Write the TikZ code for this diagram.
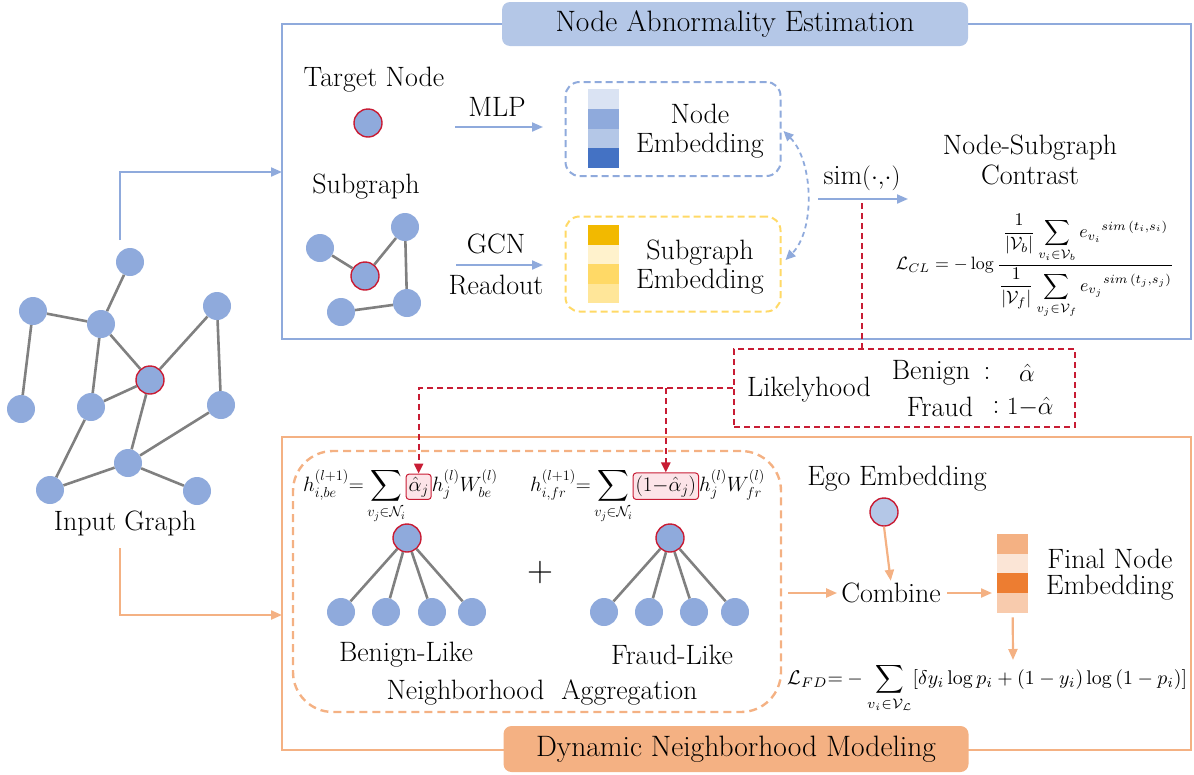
\documentclass[tikz,border=0pt]{standalone}
\usepackage{amsmath,amssymb}
\usetikzlibrary{arrows.meta,calc}

\definecolor{nodeblue}{HTML}{8FAADC}
\definecolor{lightblue}{HTML}{B4C7E7}
\definecolor{paleblue}{HTML}{DAE3F3}
\definecolor{deepblue}{HTML}{4472C4}
\definecolor{nodered}{RGB}{200,28,52}
\definecolor{edgegray}{HTML}{808080}
\definecolor{peach}{HTML}{F4B183}
\definecolor{palepeach}{HTML}{FBE5D6}
\definecolor{deeporange}{HTML}{ED7D31}
\definecolor{lightpeach}{HTML}{F8CBAD}
\definecolor{gold}{RGB}{242,185,0}
\definecolor{palegold}{HTML}{FFF2CC}
\definecolor{midgold}{HTML}{FFD966}
\definecolor{lightgold}{HTML}{FFE699}
\definecolor{pinkfill}{RGB}{252,228,232}

\newcommand{\fsbody}{\rmfamily\fontsize{28}{29}\selectfont}
\newcommand{\fstitle}{\rmfamily\fontsize{29.5}{32}\selectfont}
\newcommand{\fsmath}{\fontsize{22}{26}\selectfont}

\begin{document}
\begin{tikzpicture}[x=1pt,y=-1pt,
  vertex/.style={circle, fill=nodeblue, minimum size=28pt, inner sep=0pt},
  target/.style={vertex, draw=nodered, line width=1.4pt},
  link/.style={draw=edgegray, line width=2.6pt},
  txt/.style={font=\fsbody, inner sep=0pt, align=center},
  bluearrow/.style={draw=nodeblue, line width=2pt, -{Triangle[length=11pt,width=9pt]}},
  orangearrow/.style={draw=peach, line width=2.2pt, -{Triangle[length=11pt,width=9pt]}},
  reddash/.style={draw=nodered, line width=2.2pt, dash pattern=on 6pt off 4pt},
  embbox/.style={rounded corners=14pt, line width=2pt, dash pattern=on 7pt off 4pt,
                 minimum width=215pt, inner sep=0pt},
  mth/.style={font=\fsmath, inner sep=0pt},
  hilite/.style={draw=nodered, fill=pinkfill, rounded corners=3pt, line width=1pt, inner sep=2.5pt},
  titlebox/.style={font=\fstitle, rounded corners=8pt, inner sep=0pt},
]
\useasboundingbox (0,0) rectangle (1194,774);

% ---------------- input graph ----------------
\node[vertex] (g1) at (130,262) {};
\node[vertex] (g2) at (33,311) {};
\node[vertex] (g3) at (101,324) {};
\node[vertex] (g4) at (217,306) {};
\node[target] (g5) at (150,380) {};
\node[vertex] (g6) at (21,409) {};
\node[vertex] (g7) at (91,407) {};
\node[vertex] (g8) at (221,405) {};
\node[vertex] (g9) at (128,463) {};
\node[vertex] (g10) at (50,490) {};
\node[vertex] (g11) at (197,491) {};
\foreach \a/\b in {g1/g3,g2/g3,g2/g6,g3/g5,g3/g7,g4/g5,g4/g8,g5/g7,g5/g9,g8/g9,g9/g10,g7/g10,g9/g11}
  \draw[link] (\a) -- (\b);
\node[txt] (inlabel) at (125,523) {Input Graph};

\coordinate (inTop) at (120,240);
\coordinate (panelAin) at (282,172);
\draw[bluearrow] (inTop) |- (panelAin);
\coordinate (inBot) at (120,548);
\coordinate (panelBin) at (282,615);
\draw[orangearrow] (inBot) |- (panelBin);

% ---------------- node abnormality estimation ----------------
\draw[nodeblue, line width=2pt] (282,24) rectangle (1191,339);
\node[titlebox, fill=lightblue, minimum width=466pt, minimum height=44pt] (titleA) at (735,24) {Node Abnormality Estimation};

\node[txt] (tnlabel) at (374,80) {Target Node};
\node[target] (tn) at (368,123) {};
\node[txt] (mlp) at (497,107) {MLP};
\coordinate (mlpA) at (455,127);
\coordinate (mlpB) at (543,127);
\draw[bluearrow] (mlpA) -- (mlpB);

\node[txt] (sglabel) at (366,187) {Subgraph};
\node[vertex] (s1) at (320,248) {};
\node[vertex] (s2) at (405,227) {};
\node[target] (s3) at (365,276) {};
\node[vertex] (s4) at (407,303) {};
\node[vertex] (s5) at (341,312) {};
\foreach \a/\b in {s1/s3,s3/s2,s2/s4,s4/s5}
  \draw[link] (\a) -- (\b);
\node[txt] (gcn) at (496,244) {GCN};
\node[txt] (readout) at (496,285) {Readout};
\coordinate (gcnA) at (456,265);
\coordinate (gcnB) at (543,265);
\draw[bluearrow] (gcnA) -- (gcnB);

% node embedding
\node[embbox, draw=nodeblue, minimum height=94pt] (nebox) at (673,129) {};
\fill[paleblue] (588,89) rectangle (619,109);
\fill[nodeblue] (588,109) rectangle (619,129);
\fill[lightblue] (588,129) rectangle (619,148);
\fill[deepblue] (588,148) rectangle (619,168);
\node[txt] (netext) at (700,131) {Node\\Embedding};

% subgraph embedding
\node[embbox, draw=midgold, minimum height=95pt] (sebox) at (673,264) {};
\fill[gold] (588,225) rectangle (619,245);
\fill[palegold] (588,245) rectangle (619,264);
\fill[midgold] (588,264) rectangle (619,284);
\fill[lightgold] (588,284) rectangle (619,303);
\node[txt] (setext) at (700,267) {Subgraph\\Embedding};

\draw[draw=nodeblue, line width=1.8pt, dash pattern=on 5pt off 4pt,
      {Triangle[length=10pt,width=9pt]}-{Triangle[length=10pt,width=9pt]}]
  ($(nebox.east)+(2,2)$) .. controls +(30,30) and +(30,-30) .. ($(sebox.east)+(4,-4)$);

\node[txt] (sim) at (862,178) {sim$(\cdot{,}\cdot)$};
\coordinate (simA) at (818,199);
\coordinate (simB) at (908,199);
\draw[bluearrow] (simA) -- (simB);

\node[txt] (contrast) at (1030,160) {Node-Subgraph\\[1pt]Contrast};
\node[inner sep=0pt] (lcl) at (1035,266) {\resizebox{278pt}{!}{$\mathcal{L}_{CL}=-\log\dfrac{\dfrac{1}{|\mathcal{V}_b|}\displaystyle\sum_{v_i\in\mathcal{V}_b}{e_{v_i}}^{sim\,(t_i,s_i)}}{\dfrac{1}{|\mathcal{V}_f|}\displaystyle\sum_{v_j\in\mathcal{V}_f}{e_{v_j}}^{sim\,(t_j,s_j)}}$}};

% ---------------- likelihood ----------------
\node[reddash, minimum width=341pt, minimum height=78pt, inner sep=0pt] (lk) at (904.5,388) {};
\node[txt] (lkt) at (809,390) {Likelyhood};
\node[txt] (benign) at (931,373) {Benign};
\node[txt] (bcolon) at (987,373) {:};
\node[txt] (balpha) at (1027,373) {$\hat{\alpha}$};
\node[txt] (fraud) at (940,407) {Fraud};
\node[txt] (fcolon) at (996,407) {:};
\node[txt, anchor=west] (falpha) at (1007,407) {$1{-}\hat{\alpha}$};

\coordinate (simdrop) at (862,203);
\draw[reddash] (simdrop) -- (simdrop |- lk.north);

% ---------------- dynamic neighborhood modeling ----------------
\draw[peach, line width=2pt] (282,437) rectangle (1191,750);
\node[titlebox, fill=peach, minimum width=465pt, minimum height=46pt] (titleB) at (736,749) {Dynamic Neighborhood Modeling};

\node[draw=peach, line width=2.4pt, dash pattern=on 8pt off 5pt, rounded corners=40pt,
      minimum width=488pt, minimum height=261pt, inner sep=0pt] (nabox) at (537,581.5) {};

% aggregation formulas
\node[mth, anchor=base west] (fbeA) at (303,491) {$h_{i,be}^{(l+1)}{=}\displaystyle\sum_{v_j\in\mathcal{N}_i}$};
\node[mth, hilite, anchor=base west] (hlA) at (fbeA.base east) {$\hat{\alpha}_j$};
\node[mth, anchor=base west] (fbeB) at (hlA.base east) {$h_j^{(l)}W_{be}^{(l)}$};
\node[mth, anchor=base west] (ffrA) at (530,491) {$h_{i,fr}^{(l+1)}{=}\displaystyle\sum_{v_j\in\mathcal{N}_i}$};
\node[mth, hilite, anchor=base west] (hlB) at (ffrA.base east) {$(1{-}\hat{\alpha}_j)$};
\node[mth, anchor=base west] (ffrB) at (hlB.base east) {$h_j^{(l)}W_{fr}^{(l)}$};

\coordinate (split) at (hlB.north |- lk.west);
\draw[reddash, -{Triangle[length=10pt,width=9pt]}] (lk.west) -| (hlA.north);
\draw[reddash, -{Triangle[length=10pt,width=9pt]}] (split) -- (hlB.north);

% benign-like tree
\node[target] (br) at (407,538) {};
\foreach \x [count=\i] in {341,386,432,472} {
  \node[vertex] (bl\i) at (\x,612) {};
  \draw[link] (br) -- (bl\i);
}
\node[txt] (blt) at (406,655) {Benign-Like};
\node[txt, font=\fontsize{36}{36}\selectfont] (plus) at (540,573) {+};
% fraud-like tree
\node[target] (fr) at (670,538) {};
\foreach \x [count=\i] in {604,649,694,735} {
  \node[vertex] (fl\i) at (\x,612) {};
  \draw[link] (fr) -- (fl\i);
}
\node[txt] (flt) at (672,655) {Fraud-Like};
\node[txt] (nat) at (542,692) {Neighborhood\ \ Aggregation};

% combination
\node[txt] (egot) at (897,479) {Ego Embedding};
\node[target, fill=lightblue] (ego) at (884,512) {};
\node[txt] (comb) at (891,593) {Combine};
\draw[orangearrow, shorten >=2pt] (ego.south) -- (comb.north);
\draw[orangearrow, shorten <=6pt, shorten >=4pt] (nabox.east |- comb.west) -- (comb.west);

\node[minimum width=31pt, minimum height=79pt, inner sep=0pt, anchor=north west] (fbar) at (997,534) {};
\fill[peach] (997,534) rectangle (1028,554);
\fill[palepeach] (997,554) rectangle (1028,573);
\fill[deeporange] (997,573) rectangle (1028,593);
\fill[lightpeach] (997,593) rectangle (1028,613);
\node[txt] (fnt) at (1110,575) {Final Node\\[-3pt]Embedding};
\draw[orangearrow, shorten <=6pt, shorten >=5pt] (comb.east) -- (comb.east -| fbar.west);

\coordinate (lfdtop) at (1013,660);
\draw[orangearrow, shorten <=4pt] (fbar.south) -- (lfdtop);
\node[inner sep=0pt, anchor=west] (lfd) at (787,688) {\resizebox{400pt}{!}{$\mathcal{L}_{FD}{=}-\displaystyle\sum_{v_i\in\mathcal{V}_{\mathcal{L}}}[\delta y_i\log p_i+(1-y_i)\log{(1-p_i)}]$}};

\end{tikzpicture}
\end{document}
